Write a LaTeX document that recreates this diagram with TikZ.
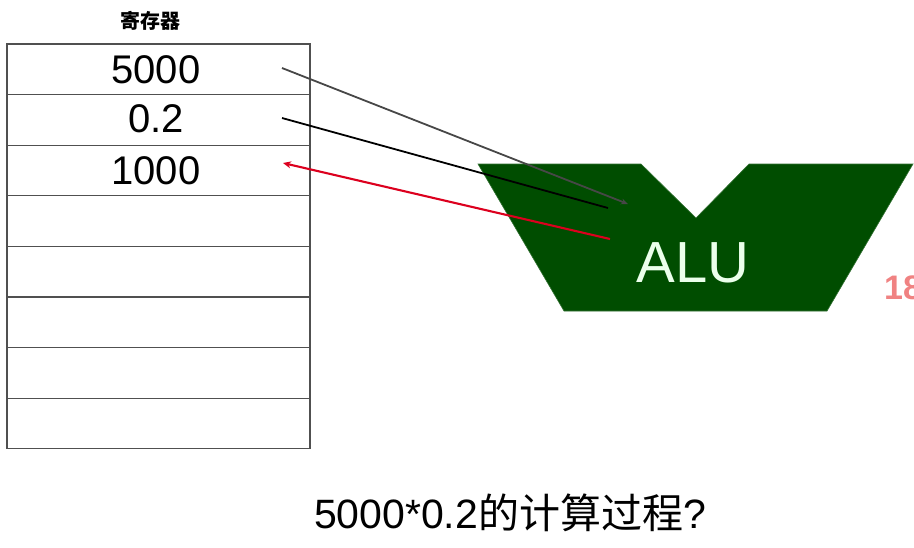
\documentclass[tikz,border=0pt]{standalone}
\usepackage{fontspec}
\setmainfont{Liberation Sans}
\newfontfamily\cjk{Noto Sans CJK SC}
\usetikzlibrary{arrows.meta}
\definecolor{alugreen}{RGB}{0,77,0}
\definecolor{regline}{RGB}{80,80,80}
\definecolor{redarrow}{RGB}{220,0,30}
\definecolor{pagenum}{RGB}{240,130,130}
\begin{document}
\begin{tikzpicture}[x=1pt,y=-1pt,
  cell/.style={draw=regline,line width=1.1pt,minimum width=303pt,minimum height=50.6pt,inner sep=0pt,outer sep=0pt},
  val/.style={font=\fontsize{40}{40}\selectfont,inner sep=0pt},
  link/.style={line width=1.8pt}]
\useasboundingbox (0,0) rectangle (914,547);
\foreach \i in {1,...,8}{
  \node[cell] (r\i) at (158.5,{44+50.6*(\i-0.5)}) {};
}
\node[font=\cjk\bfseries\fontsize{20}{20}\selectfont] (title) at (150,21) {寄存器};
\node[val] (v1) at (156,70) {5000};
\node[val] (v2) at (156,119) {0.2};
\node[val] (v3) at (156,171) {1000};
\path[fill=alugreen,draw=alugreen!80!white,line width=0.6pt] (478,164) -- (641,164) -- (696,218) -- (749,164) -- (913,164) -- (827,311) -- (564,311) -- cycle;
\node[font=\fontsize{58}{58}\selectfont,text=green!8!white,inner sep=0pt] (alu) at (693,263) {ALU};
\coordinate (s1) at (282,68);
\coordinate (e1) at (628,204);
\coordinate (s2) at (282,118);
\coordinate (e2) at (608,208);
\coordinate (s3) at (610,239);
\coordinate (e3) at (283,163);
\draw[link,draw=black!72,-{Stealth[length=7pt,width=6pt]}] (s1) -- (e1);
\draw[link,draw=black] (s2) -- (e2);
\draw[link,draw=redarrow,line width=2.1pt,-{Stealth[length=8pt,width=7pt]}] (s3) -- (e3);
\node[font=\bfseries\fontsize{34}{34}\selectfont,text=pagenum,anchor=west,inner sep=0pt] (pg) at (884,288) {18};
\node[font=\fontsize{41}{41}\selectfont,inner sep=0pt] (cap) at (510,513) {5000*0.2{\cjk 的计算过程}?};
\end{tikzpicture}
\end{document}
